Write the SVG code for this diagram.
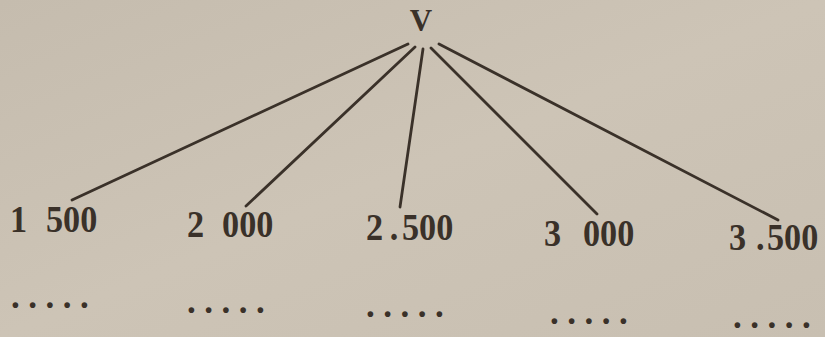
<svg xmlns="http://www.w3.org/2000/svg" width="825" height="337" viewBox="0 0 825 337">
<style>
.t{font-family:"Liberation Serif","DejaVu Serif",serif;font-weight:bold;fill:#3a3129}
.lbl{font-size:38px}
.dots{font-size:35px;letter-spacing:8.5px}
.c{stroke:#3a3129;stroke-width:2.8;stroke-linecap:round;fill:none}
</style>
<defs>
<linearGradient id="bg" x1="0" y1="0" x2="1" y2="1">
<stop offset="0" stop-color="#c5bcae"/>
<stop offset="0.5" stop-color="#cdc4b6"/>
<stop offset="1" stop-color="#c8bfb1"/>
</linearGradient>
</defs>
<rect width="825" height="337" fill="url(#bg)"/>
<g id="root"><text class="t" x="421" y="31" font-size="31" text-anchor="middle">V</text></g>
<g id="connectors">
<line class="c" x1="408" y1="44" x2="72" y2="200"/>
<line class="c" x1="415" y1="47" x2="246" y2="206"/>
<line class="c" x1="423" y1="49" x2="400" y2="207"/>
<line class="c" x1="431" y1="48" x2="597" y2="214"/>
<line class="c" x1="439" y1="44" x2="778" y2="220"/>
</g>
<g id="n1500"><text class="t lbl" transform="translate(10 232) scale(0.9 1)"><tspan x="0">1</tspan><tspan x="40">500</tspan></text><text class="t dots" x="11" y="308">.....</text></g>
<g id="n2000"><text class="t lbl" transform="translate(187 237) scale(0.9 1)"><tspan x="0">2</tspan><tspan x="39">000</tspan></text><text class="t dots" x="187" y="313">.....</text></g>
<g id="n2500"><text class="t lbl" transform="translate(366 240) scale(0.9 1)"><tspan x="0">2</tspan><tspan x="26.5">.</tspan><tspan x="40">500</tspan></text><text class="t dots" x="366" y="317">.....</text></g>
<g id="n3000"><text class="t lbl" transform="translate(544 246) scale(0.9 1)"><tspan x="0">3</tspan><tspan x="43.3">000</tspan></text><text class="t dots" x="550" y="324">.....</text></g>
<g id="n3500"><text class="t lbl" transform="translate(729 250) scale(0.9 1)"><tspan x="0">3</tspan><tspan x="30">.</tspan><tspan x="42.2">500</tspan></text><text class="t dots" x="733" y="328">.....</text></g>
</svg>
